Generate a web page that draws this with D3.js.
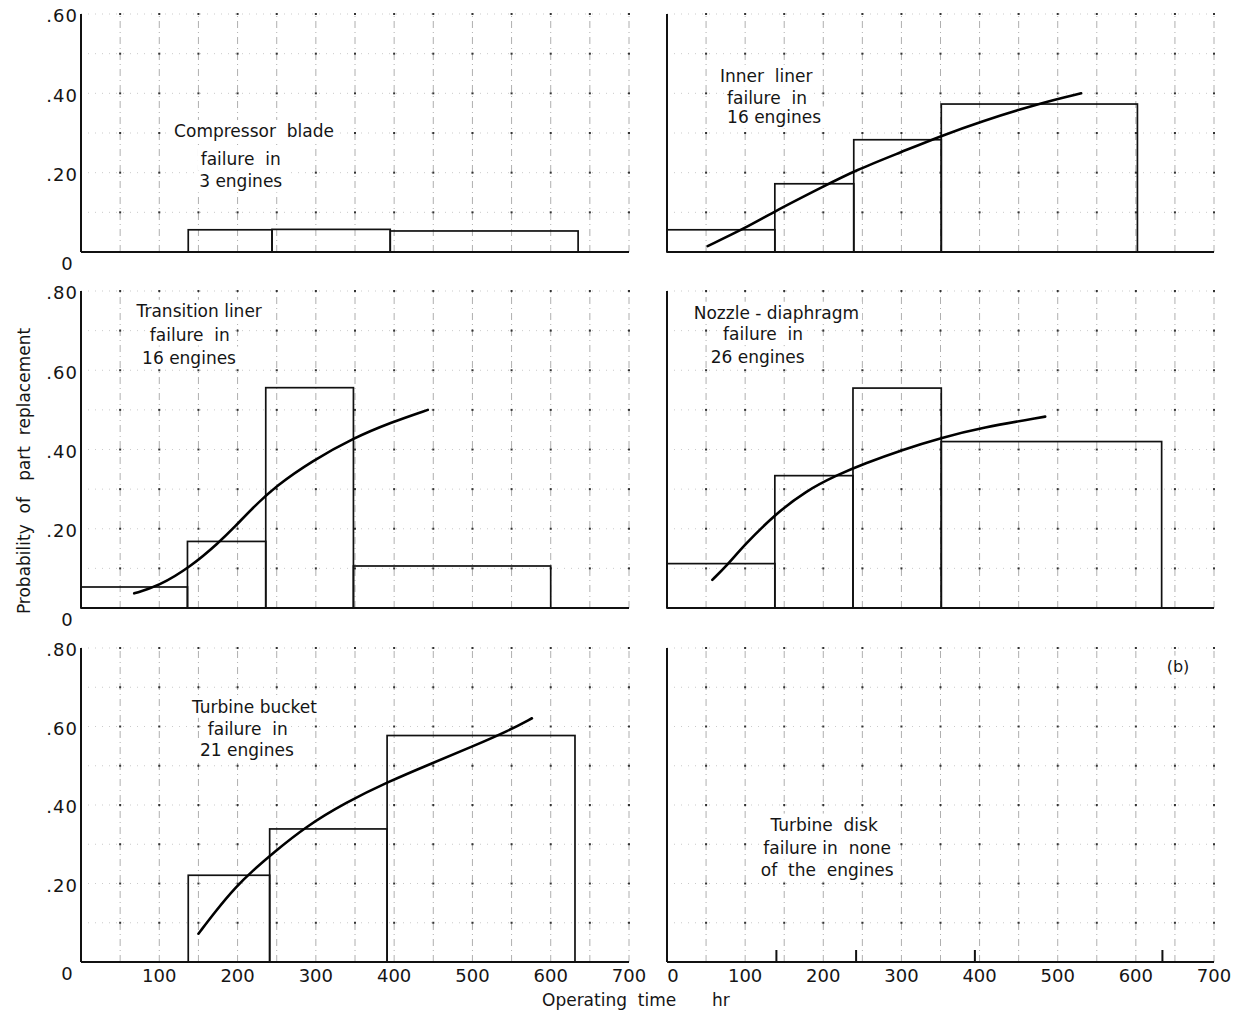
<!DOCTYPE html>
<html><head><meta charset="utf-8">
<script src="https://cdn.jsdelivr.net/npm/d3@7"></script>
<style>
body{margin:0;background:#fff}
svg{display:block}
text{font-family:"DejaVu Sans",sans-serif;fill:#151515}
</style>
</head><body>
<svg id="chart" width="1252" height="1017"></svg>
<script>
// ---------- data ----------
const xTickValues = [0, 100, 200, 300, 400, 500, 600, 700];
const xTickLabels = ["0", "100", "200", "300", "400", "500", "600", "700"];
const yTicksTop = [0, 0.2, 0.4, 0.6];
const yTickLabelsTop = ["0", ".20", ".40", ".60"];
const yTicksLow = [0, 0.2, 0.4, 0.6, 0.8];
const yTickLabelsLow = ["0", ".20", ".40", ".60", ".80"];

// bin edges (hr) and probabilities per bin
const compressorEdges = [137, 244, 395, 635];
const compressorValues = [0.056, 0.057, 0.053];

const innerLinerEdges = [0, 138, 239, 351, 602];
const innerLinerValues = [0.056, 0.172, 0.283, 0.373];
const innerLinerCurve = [[52,0.015],[100,0.06],[140,0.105],[200,0.165],[240,0.205],[300,0.252],[350,0.292],[400,0.328],[477,0.375],[530,0.40]];

const transitionEdges = [0, 136, 236, 348, 600];
const transitionValues = [0.053, 0.168, 0.556, 0.106];
const transitionCurve = [[68,0.037],[99,0.055],[140,0.104],[176,0.165],[197,0.206],[218,0.25],[249,0.308],[296,0.372],[347,0.428],[397,0.469],[443,0.50]];

const nozzleEdges = [0, 138, 238, 351, 633];
const nozzleValues = [0.112, 0.334, 0.555, 0.42];
const nozzleCurve = [[58,0.071],[78,0.11],[98,0.157],[138,0.236],[178,0.296],[218,0.336],[252,0.364],[302,0.40],[352,0.43],[402,0.455],[484,0.483]];

const bucketEdges = [137, 241, 391, 631];
const bucketValues = [0.221, 0.339, 0.577];
const bucketCurve = [[150,0.072],[172,0.13],[198,0.192],[219,0.232],[245,0.277],[287,0.345],[339,0.407],[391,0.458],[448,0.506],[500,0.549],[547,0.59],[576,0.621]];

const diskEdges = [140, 242, 394, 634];
const diskValues = [];

const compressorLabel = ["Compressor  blade", "failure  in", "3 engines"];
const innerLinerLabel = ["Inner  liner", "failure  in", "16 engines"];
const transitionLabel = ["Transition liner", "failure  in", "16 engines"];
const nozzleLabel = ["Nozzle - diaphragm", "failure  in", "26 engines"];
const bucketLabel = ["Turbine bucket", "failure  in", "21 engines"];
const diskLabel = ["Turbine  disk", "failure in  none", "of  the  engines"];

// ---------- layout ----------
const svg = d3.select("#chart");
const cols = [[81, 629], [667, 1214]];
const rows = [
  {range: [252, 14], max: 0.6, ticks: yTicksTop, labels: yTickLabelsTop},
  {range: [608, 291], max: 0.8, ticks: yTicksLow, labels: yTickLabelsLow},
  {range: [962, 648], max: 0.8, ticks: yTicksLow, labels: yTickLabelsLow}
];

const panels = [
  {col:0,row:0,edges:compressorEdges,values:compressorValues,curve:null,label:compressorLabel,
   lab:[[221,0.305],[204,0.234],[204,0.178]]},
  {col:1,row:0,edges:innerLinerEdges,values:innerLinerValues,curve:innerLinerCurve,label:innerLinerLabel,
   lab:[[127,0.444],[128,0.389],[137,0.339]]},
  {col:0,row:1,edges:transitionEdges,values:transitionValues,curve:transitionCurve,label:transitionLabel,
   lab:[[151,0.75],[139,0.69],[138,0.632]]},
  {col:1,row:1,edges:nozzleEdges,values:nozzleValues,curve:nozzleCurve,label:nozzleLabel,
   lab:[[140,0.745],[123,0.691],[116,0.633]]},
  {col:0,row:2,edges:bucketEdges,values:bucketValues,curve:bucketCurve,label:bucketLabel,
   lab:[[221.6,0.65],[213,0.594],[212,0.54]]},
  {col:1,row:2,edges:diskEdges,values:diskValues,curve:null,label:diskLabel,
   lab:[[201,0.35],[205,0.29],[205,0.233]], tag:"(b)", tagPos:[654,0.754]}
];

function addLabel(g, px, py, s, size) {
  const bg = g.append("rect").attr("fill", "#fff");
  const t = g.append("text").attr("x", px).attr("y", py).attr("dy", "0.35em")
    .attr("text-anchor", "middle").attr("font-size", size)
    .style("white-space", "pre").text(s);
  const b = t.node().getBBox();
  bg.attr("x", b.x - 3).attr("y", b.y - 1).attr("width", b.width + 6).attr("height", b.height + 2);
}

panels.forEach(p => {
  const r = rows[p.row];
  const x = d3.scaleLinear().domain([0, 700]).range(cols[p.col]);
  const y = d3.scaleLinear().domain([0, r.max]).range(r.range);
  const g = svg.append("g");

  // grid
  const gx = d3.range(50, 701, 50);
  const gy = d3.range(1, Math.round(r.max * 10) + 1).map(d => d / 10);
  g.selectAll("line.vg").data(gx).enter().append("line")
    .attr("x1", d => x(d)).attr("x2", d => x(d))
    .attr("y1", y(0)).attr("y2", y(r.max))
    .attr("stroke", "#9a9a9a").attr("stroke-width", 0.8)
    .attr("stroke-dasharray", "7,4,1,4");
  g.selectAll("line.hg").data(gy).enter().append("line")
    .attr("x1", x(0)).attr("x2", x(700))
    .attr("y1", d => y(d)).attr("y2", d => y(d))
    .attr("stroke", "#b5b5b5").attr("stroke-width", 0.7)
    .attr("stroke-dasharray", "1,6");
  const pts = [];
  gx.forEach(a => gy.forEach(b => pts.push([a, b])));
  g.selectAll("rect.dot").data(pts).enter().append("rect")
    .attr("x", d => x(d[0]) - 1).attr("y", d => y(d[1]) - 1)
    .attr("width", 2).attr("height", 2).attr("fill", "#333");

  // labels (white box breaks the grid behind them)
  p.label.forEach((s, i) => addLabel(g, x(p.lab[i][0]), y(p.lab[i][1]), s, 17));
  if (p.tag) addLabel(g, x(p.tagPos[0]), y(p.tagPos[1]), p.tag, 16);

  // axes lines
  g.append("line").attr("x1", x(0)).attr("x2", x(0)).attr("y1", y(0)).attr("y2", y(r.max))
    .attr("stroke", "#111").attr("stroke-width", 2);
  g.append("line").attr("x1", x(0)).attr("x2", x(700)).attr("y1", y(0)).attr("y2", y(0))
    .attr("stroke", "#111").attr("stroke-width", 2);

  // y tick labels (left column only)
  if (p.col === 0) {
    r.ticks.forEach((t, i) => {
      if (t === 0) {
        g.append("text").attr("x", x(0) - 14).attr("y", y(0) + 12).attr("dy", "0.35em")
          .attr("text-anchor", "middle").attr("font-size", 18).text(r.labels[i]);
      } else {
        g.append("text").attr("x", x(0) - 3).attr("y", y(t) + 2).attr("dy", "0.35em")
          .attr("text-anchor", "end").attr("font-size", 18).attr("letter-spacing", 1).text(r.labels[i]);
      }
    });
  }

  // x tick labels (bottom row only)
  if (p.row === 2) {
    xTickValues.forEach((t, i) => {
      if (t === 0 && p.col === 0) return; // left "0" already drawn as y label
      g.append("text").attr("x", x(t) + (t === 0 ? 6 : 0)).attr("y", y(0) + 14).attr("dy", "0.35em")
        .attr("text-anchor", "middle").attr("font-size", 18).text(xTickLabels[i]);
    });
  }

  // bars
  p.values.forEach((v, i) => {
    g.append("rect")
      .attr("x", x(p.edges[i])).attr("y", y(v))
      .attr("width", x(p.edges[i + 1]) - x(p.edges[i]))
      .attr("height", y(0) - y(v))
      .attr("fill", "none").attr("stroke", "#111").attr("stroke-width", 1.7);
  });
  if (p.values.length === 0) {
    p.edges.forEach(e => {
      g.append("line").attr("x1", x(e)).attr("x2", x(e)).attr("y1", y(0)).attr("y2", y(0) - 12)
        .attr("stroke", "#111").attr("stroke-width", 2);
    });
  }

  // curve
  if (p.curve) {
    const line = d3.line().x(d => x(d[0])).y(d => y(d[1])).curve(d3.curveBasis);
    g.append("path").datum(p.curve).attr("d", line)
      .attr("fill", "none").attr("stroke", "#000").attr("stroke-width", 2.6)
      .attr("stroke-linecap", "round");
  }
});

// axis titles
svg.append("text")
  .attr("transform", "translate(24,471) rotate(-90)")
  .attr("text-anchor", "middle").attr("dy", "0.35em").attr("font-size", 17)
  .style("white-space", "pre").text("Probability  of   part  replacement");
svg.append("text")
  .attr("x", 542).attr("y", 1000).attr("dy", "0.35em").attr("font-size", 17)
  .attr("text-anchor", "start").style("white-space", "pre").text("Operating  time");
svg.append("text")
  .attr("x", 712).attr("y", 1000).attr("dy", "0.35em").attr("font-size", 17)
  .attr("text-anchor", "start").text("hr");
</script>
</body></html>
